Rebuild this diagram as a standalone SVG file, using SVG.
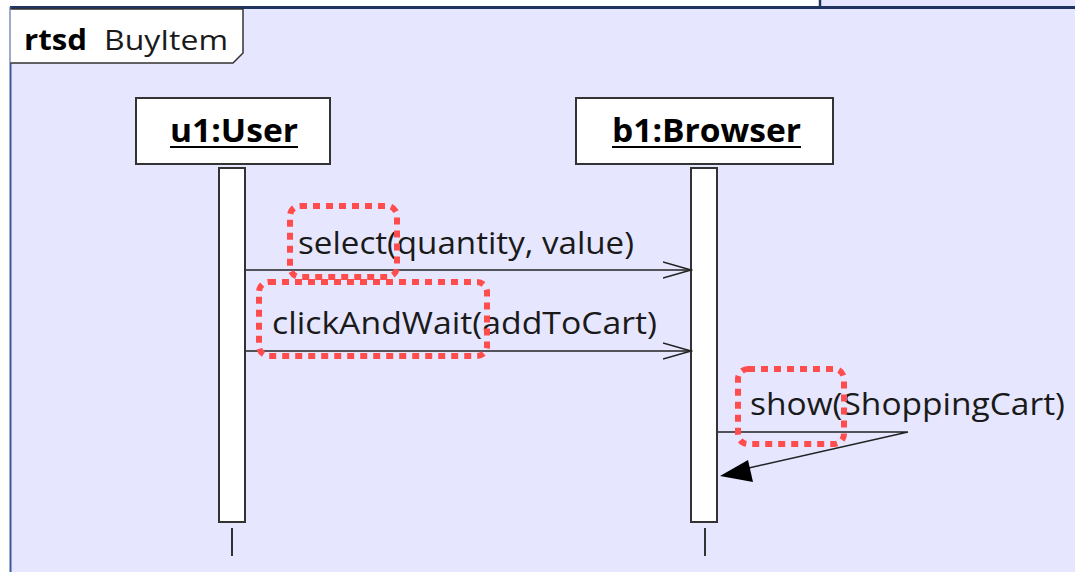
<svg xmlns="http://www.w3.org/2000/svg" width="1075" height="572" viewBox="0 0 1075 572">
<style>
.t{font-family:"Open Sans","Noto Sans","DejaVu Sans",sans-serif;fill:#1a1a1a}
.b{font-weight:bold;fill:#000}
.box{fill:#fff;stroke:#333;stroke-width:2}
.ln{stroke:#222;stroke-width:1.5;fill:none}
.ann{fill:none;stroke:#ff4d4d;stroke-width:6;stroke-dasharray:7 6}
</style>
<defs>
<marker id="open" markerWidth="30" markerHeight="20" refX="28" refY="10" orient="auto" markerUnits="userSpaceOnUse">
<path d="M0,2 L28,10 L0,18" fill="none" stroke="#222" stroke-width="1.5"/>
</marker>
</defs>
<rect x="0" y="0" width="1075" height="572" fill="#fff"/>
<rect x="820" y="0" width="255" height="8" fill="#e6e6ff"/>
<rect x="10" y="8" width="1065" height="564" fill="#e6e6ff"/>
<line x1="820" y1="0" x2="820" y2="8" stroke="#1f3560" stroke-width="2.5"/>
<line x1="10" y1="7.5" x2="1075" y2="7.5" stroke="#1f3560" stroke-width="3"/>
<line x1="10.5" y1="7" x2="10.5" y2="572" stroke="#3c5a9a" stroke-width="2"/>
<g id="frame-label">
<path d="M10.5,9 L243,9 L243,53 L233,63 L10.5,63" fill="#fff" stroke="#333" stroke-width="1.5"/>
<text class="t b" x="24" y="50" font-size="28" textLength="63" lengthAdjust="spacingAndGlyphs">rtsd</text>
<text class="t" x="104" y="50" font-size="28" textLength="124" lengthAdjust="spacingAndGlyphs">BuyItem</text>
</g>
<g id="u1">
<rect class="box" x="136" y="98" width="194" height="66"/>
<text class="t b" x="170" y="142" font-size="32" textLength="128" lengthAdjust="spacingAndGlyphs">u1:User</text>
<line x1="170" y1="147" x2="298" y2="147" stroke="#000" stroke-width="2"/>
<rect class="box" x="219" y="168" width="26" height="354"/>
<line x1="232" y1="528" x2="232" y2="556" stroke="#333" stroke-width="2"/>
</g>
<g id="b1">
<rect class="box" x="576" y="98" width="257" height="66"/>
<text class="t b" x="612" y="142" font-size="32" textLength="189" lengthAdjust="spacingAndGlyphs">b1:Browser</text>
<line x1="612" y1="147" x2="801" y2="147" stroke="#000" stroke-width="2"/>
<rect class="box" x="691" y="168" width="26" height="354"/>
<line x1="705" y1="528" x2="705" y2="556" stroke="#333" stroke-width="2"/>
</g>
<g id="connectors">
<line class="ln" x1="246" y1="270" x2="691" y2="270" marker-end="url(#open)"/>
<line class="ln" x1="246" y1="351" x2="691" y2="351" marker-end="url(#open)"/>
<polyline class="ln" points="718,432 908,432 740,470"/>
<polygon points="720,476 748,460 753,482" fill="#000"/>
</g>
<g id="labels">
<text class="t" x="298" y="254" font-size="31" textLength="336" lengthAdjust="spacingAndGlyphs">select(quantity, value)</text>
<text class="t" x="272" y="334" font-size="31" textLength="385" lengthAdjust="spacingAndGlyphs">clickAndWait(addToCart)</text>
<text class="t" x="750" y="415" font-size="31" textLength="315" lengthAdjust="spacingAndGlyphs">show(ShoppingCart)</text>
</g>
<g id="annotations">
<rect class="ann" x="290" y="206" width="107" height="71" rx="10"/>
<rect class="ann" x="259" y="282" width="228" height="74" rx="10"/>
<rect class="ann" x="738" y="369" width="106" height="75" rx="10"/>
</g>
</svg>
